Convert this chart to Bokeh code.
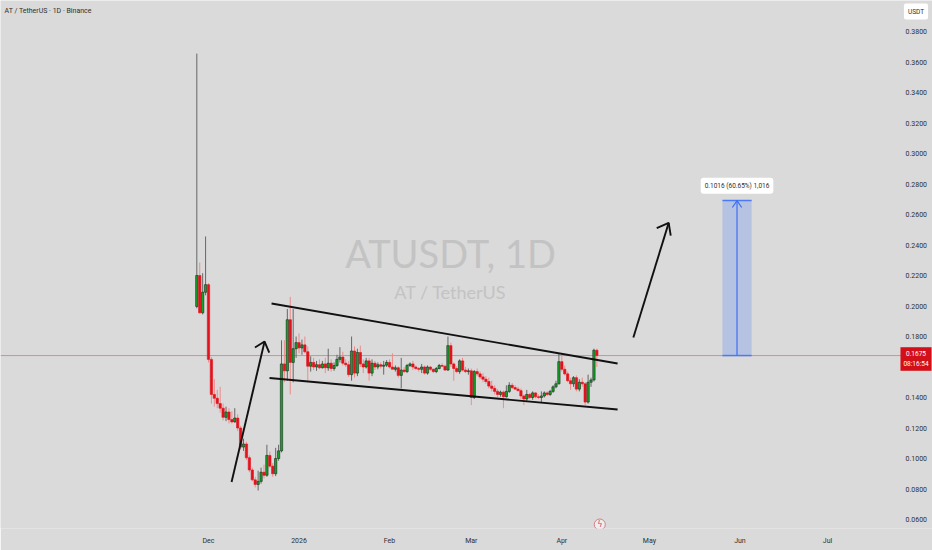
import pandas as pd
from bokeh.plotting import figure
from bokeh.models import (Range1d, FixedTicker, NumeralTickFormatter, Label,
                          ColumnDataSource)
from bokeh.core.properties import value
from bokeh.embed import file_html
from bokeh.resources import INLINE

# ---- AT/USDT daily candles (Binance) ----
first_day = "2025-11-27"
opens = [0.1997, 0.2200, 0.1955, 0.2090, 0.2140, 0.1650, 0.1420, 0.1395, 0.1360, 0.1330,
         0.1270, 0.1305, 0.1255, 0.1240, 0.1265, 0.1200, 0.1075, 0.1095, 0.1005, 0.0925,
         0.0860, 0.0830, 0.0850, 0.0910, 0.0890, 0.1020, 0.0950, 0.0900, 0.1000, 0.1050,
         0.1620, 0.1575, 0.1910, 0.1630, 0.1720, 0.1760, 0.1725, 0.1745, 0.1700, 0.1605,
         0.1630, 0.1600, 0.1615, 0.1595, 0.1620, 0.1595, 0.1625, 0.1590, 0.1610, 0.1650,
         0.1665, 0.1625, 0.1615, 0.1550, 0.1705, 0.1560, 0.1695, 0.1620, 0.1600, 0.1640,
         0.1560, 0.1625, 0.1600, 0.1615, 0.1605, 0.1612, 0.1630, 0.1600, 0.1585, 0.1595,
         0.1545, 0.1580, 0.1570, 0.1610, 0.1620, 0.1600, 0.1590, 0.1585, 0.1600, 0.1560,
         0.1600, 0.1585, 0.1570, 0.1590, 0.1610, 0.1605, 0.1580, 0.1740, 0.1620, 0.1590,
         0.1570, 0.1640, 0.1580, 0.1570, 0.1575, 0.1400, 0.1570, 0.1555, 0.1535, 0.1520,
         0.1505, 0.1475, 0.1460, 0.1440, 0.1420, 0.1435, 0.1405, 0.1440, 0.1480, 0.1465,
         0.1455, 0.1445, 0.1410, 0.1390, 0.1420, 0.1400, 0.1430, 0.1405, 0.1400, 0.1410,
         0.1430, 0.1420, 0.1440, 0.1470, 0.1490, 0.1635, 0.1585, 0.1555, 0.1510, 0.1490,
         0.1530, 0.1455, 0.1500, 0.1490, 0.1370, 0.1500, 0.1515, 0.1710]
highs = [0.3655, 0.2285, 0.2215, 0.2456, 0.2150, 0.1665, 0.1520, 0.1450, 0.1470, 0.1360,
         0.1340, 0.1330, 0.1310, 0.1330, 0.1290, 0.1215, 0.1130, 0.1110, 0.1020, 0.0940,
         0.0880, 0.0920, 0.0940, 0.0960, 0.1090, 0.1045, 0.0970, 0.1070, 0.1090, 0.1775,
         0.1775, 0.1980, 0.2060, 0.1980, 0.1800, 0.1820, 0.1780, 0.1800, 0.1735, 0.1670,
         0.1660, 0.1640, 0.1650, 0.1640, 0.1660, 0.1720, 0.1650, 0.1630, 0.1680, 0.1730,
         0.1700, 0.1650, 0.1640, 0.1800, 0.1735, 0.1720, 0.1740, 0.1650, 0.1660, 0.1660,
         0.1650, 0.1640, 0.1630, 0.1630, 0.1640, 0.1645, 0.1650, 0.1690, 0.1610, 0.1605,
         0.1660, 0.1600, 0.1620, 0.1630, 0.1640, 0.1610, 0.1600, 0.1620, 0.1610, 0.1610,
         0.1605, 0.1590, 0.1600, 0.1620, 0.1625, 0.1615, 0.1800, 0.1760, 0.1630, 0.1605,
         0.1650, 0.1660, 0.1600, 0.1590, 0.1590, 0.1580, 0.1590, 0.1570, 0.1560, 0.1540,
         0.1530, 0.1510, 0.1480, 0.1455, 0.1445, 0.1445, 0.1480, 0.1500, 0.1495, 0.1480,
         0.1470, 0.1460, 0.1420, 0.1450, 0.1430, 0.1440, 0.1435, 0.1420, 0.1440, 0.1440,
         0.1440, 0.1450, 0.1480, 0.1510, 0.1690, 0.1690, 0.1610, 0.1570, 0.1530, 0.1540,
         0.1545, 0.1520, 0.1530, 0.1500, 0.1550, 0.1530, 0.1720, 0.1720]
lows = [0.1985, 0.1950, 0.1945, 0.2070, 0.1630, 0.1360, 0.1340, 0.1330, 0.1300, 0.1250,
        0.1245, 0.1230, 0.1230, 0.1235, 0.1180, 0.1060, 0.1050, 0.0990, 0.0910, 0.0850,
        0.0810, 0.0790, 0.0835, 0.0870, 0.0880, 0.0940, 0.0880, 0.0885, 0.0985, 0.1040,
        0.1500, 0.1510, 0.1420, 0.1500, 0.1660, 0.1690, 0.1680, 0.1690, 0.1510, 0.1570,
        0.1580, 0.1575, 0.1585, 0.1590, 0.1560, 0.1575, 0.1570, 0.1575, 0.1600, 0.1630,
        0.1610, 0.1600, 0.1535, 0.1510, 0.1530, 0.1540, 0.1600, 0.1560, 0.1590, 0.1510,
        0.1540, 0.1580, 0.1585, 0.1590, 0.1550, 0.1600, 0.1590, 0.1590, 0.1570, 0.1530,
        0.1460, 0.1560, 0.1560, 0.1600, 0.1580, 0.1580, 0.1570, 0.1560, 0.1550, 0.1550,
        0.1575, 0.1560, 0.1560, 0.1585, 0.1600, 0.1575, 0.1575, 0.1600, 0.1510, 0.1560,
        0.1555, 0.1570, 0.1560, 0.1550, 0.1350, 0.1390, 0.1540, 0.1520, 0.1500, 0.1490,
        0.1460, 0.1440, 0.1420, 0.1400, 0.1405, 0.1330, 0.1400, 0.1430, 0.1455, 0.1450,
        0.1440, 0.1390, 0.1350, 0.1370, 0.1390, 0.1385, 0.1395, 0.1390, 0.1365, 0.1400,
        0.1410, 0.1410, 0.1430, 0.1460, 0.1485, 0.1570, 0.1545, 0.1500, 0.1450, 0.1470,
        0.1440, 0.1440, 0.1470, 0.1350, 0.1360, 0.1470, 0.1505, 0.1600]
closes = [0.2200, 0.1955, 0.2090, 0.2140, 0.1650, 0.1420, 0.1395, 0.1360, 0.1330, 0.1270,
          0.1305, 0.1255, 0.1240, 0.1265, 0.1200, 0.1075, 0.1095, 0.1005, 0.0925, 0.0860,
          0.0830, 0.0850, 0.0910, 0.0890, 0.1020, 0.0950, 0.0900, 0.1000, 0.1050, 0.1620,
          0.1575, 0.1910, 0.1630, 0.1720, 0.1760, 0.1725, 0.1745, 0.1700, 0.1605, 0.1630,
          0.1600, 0.1615, 0.1595, 0.1620, 0.1595, 0.1625, 0.1590, 0.1610, 0.1650, 0.1665,
          0.1625, 0.1615, 0.1550, 0.1705, 0.1560, 0.1695, 0.1620, 0.1600, 0.1640, 0.1560,
          0.1625, 0.1600, 0.1615, 0.1605, 0.1612, 0.1630, 0.1600, 0.1585, 0.1595, 0.1545,
          0.1580, 0.1570, 0.1610, 0.1620, 0.1600, 0.1590, 0.1585, 0.1600, 0.1560, 0.1600,
          0.1585, 0.1570, 0.1590, 0.1610, 0.1605, 0.1580, 0.1740, 0.1620, 0.1590, 0.1570,
          0.1640, 0.1580, 0.1570, 0.1575, 0.1400, 0.1570, 0.1555, 0.1535, 0.1520, 0.1505,
          0.1475, 0.1460, 0.1440, 0.1420, 0.1435, 0.1405, 0.1440, 0.1480, 0.1465, 0.1455,
          0.1445, 0.1410, 0.1390, 0.1420, 0.1400, 0.1430, 0.1405, 0.1400, 0.1410, 0.1430,
          0.1420, 0.1440, 0.1470, 0.1490, 0.1635, 0.1585, 0.1555, 0.1510, 0.1490, 0.1530,
          0.1455, 0.1500, 0.1490, 0.1370, 0.1500, 0.1515, 0.1710, 0.1675]

# ---- axes ----
axis_origin = "2025-12-01"
tick_dates = ["2025-12-01", "2026-01-01", "2026-02-01", "2026-03-01",
              "2026-04-01", "2026-05-01", "2026-06-01", "2026-07-01"]
tick_labels = ["Dec", "2026", "Feb", "Mar", "Apr", "May", "Jun", "Jul"]
price_ticks = [0.06, 0.08, 0.10, 0.12, 0.14, 0.18, 0.20, 0.22, 0.24, 0.26,
               0.28, 0.30, 0.32, 0.34, 0.36, 0.38]

# ---- drawings (days since Dec 1, price) ----
upper_channel = ([21.6, 140.1], [0.2016, 0.1623])
lower_channel = ([20.9, 140.1], [0.1528, 0.1321])
arrow_up_1 = ([7.9, 19.2], [0.0846, 0.1767])
arrow_head_1 = ([15.9, 19.2, 20.8], [0.1728, 0.1767, 0.1695])
arrow_up_2 = ([145.5, 157.6], [0.1793, 0.2545])
arrow_head_2 = ([153.5, 157.6, 158.3], [0.2510, 0.2545, 0.2462])

# price-range measurement
measure_from = "2026-05-26"
measure_to = "2026-06-05"
measure_delta = 0.1016
measure_pct = 60.65
countdown = "08:16:54"
event_date = "2026-04-14"

BG = "#dadada"
UP = "#13a12a"
DOWN = "#e3121c"
UP_WICK = "#666666"
DOWN_WICK = "#ee8b8b"
TXT = "#2f2f2f"
FONT = "Roboto"
MARK_FONT = "Lato"

origin = pd.Timestamp(axis_origin)
dates = pd.date_range(first_day, periods=len(closes), freq="D")
days = [(d - origin).days for d in dates]
rising = [c >= o for o, c in zip(opens, closes)]

src = ColumnDataSource(dict(
    x=days, high=highs, low=lows,
    top=[max(o, c) for o, c in zip(opens, closes)],
    bottom=[min(o, c) for o, c in zip(opens, closes)],
    fill=[UP if r else DOWN for r in rising],
    edge=["#1c2a1c" if r else DOWN for r in rising],
    wick=[UP_WICK if r else DOWN_WICK for r in rising],
))

# pixel geometry of the chart pane
PX_PER_DAY = 2.92
DEC1_PX = 208
PANE_W = 932
SCALE_X = 901          # left edge of the price scale
PANE_H = 528
PX_PER_PRICE = 1525.0
P38_PX = 31

def day_at(px):
    return (px - DEC1_PX) / PX_PER_DAY

def price_at(py):
    return 0.38 - (py - P38_PX) / PX_PER_PRICE

x0, x1 = day_at(0), day_at(PANE_W)
y_top, y_bot = price_at(0), price_at(PANE_H)

p = figure(width=932, height=550, output_backend="svg", toolbar_location=None,
           x_range=Range1d(x0, x1), y_range=Range1d(y_bot, y_top),
           y_axis_location="right", min_border_left=0, min_border_top=0,
           min_border_right=0, min_border_bottom=550 - PANE_H,
           background_fill_color=BG, border_fill_color=BG, outline_line_color=None)
p.grid.visible = False

# time axis
p.xaxis.ticker = FixedTicker(ticks=[(pd.Timestamp(t) - origin).days for t in tick_dates])
p.xaxis.major_label_overrides = {(pd.Timestamp(t) - origin).days: lab
                                 for t, lab in zip(tick_dates, tick_labels)}
# price scale drawn at the right edge of the pane
p.yaxis.ticker = FixedTicker(ticks=price_ticks)
p.yaxis.formatter = NumeralTickFormatter(format="0.0000")
p.yaxis.fixed_location = day_at(SCALE_X)
for ax in (p.xaxis[0], p.yaxis[0]):
    ax.axis_line_color = None
    ax.major_tick_line_color = None
    ax.minor_tick_line_color = None
    ax.major_tick_out = 0
    ax.major_tick_in = 0
    ax.major_label_text_font = FONT
    ax.major_label_text_font_size = "7px"
    ax.major_label_text_color = TXT
p.xaxis.major_label_standoff = 8
p.yaxis.major_label_standoff = 4

# watermark
mid_day = day_at(450)
p.add_layout(Label(x=mid_day, y=price_at(252), text="ATUSDT, 1D", text_align="center",
                   text_baseline="middle", text_font=MARK_FONT, text_font_size="38px",
                   text_color="#c3c3c3"))
p.add_layout(Label(x=mid_day, y=price_at(291), text="AT / TetherUS", text_align="center",
                   text_baseline="middle", text_font=MARK_FONT, text_font_size="18px",
                   text_color="#c3c3c3"))

# last price line
last = closes[-1]
p.segment(x0=[x0], y0=[last], x1=[day_at(SCALE_X + 2)], y1=[last],
          line_color="#e36f6f", line_width=1, line_alpha=0.75)

# measurement box
m0 = (pd.Timestamp(measure_from) - origin).days
m1 = (pd.Timestamp(measure_to) - origin).days
mid = (m0 + m1) / 2
target = last + measure_delta
p.quad(left=[m0], right=[m1], bottom=[last], top=[target],
       fill_color="#2962ff", fill_alpha=0.2, line_color=None)
p.segment(x0=[m0, m0], y0=[last, target], x1=[m1, m1], y1=[last, target],
          line_color="#4a7bf7", line_width=1.5)
p.segment(x0=[mid], y0=[last], x1=[mid], y1=[target], line_color="#3b6ff8", line_width=1.2)
p.line(x=[mid - 1.6, mid, mid + 1.6], y=[target - 0.0045, target, target - 0.0045],
       line_color="#3b6ff8", line_width=1.2)
p.add_layout(Label(x=mid, y=target + 0.0098,
                   text=f"{measure_delta:.4f} ({measure_pct:.2f}%) {round(measure_delta * 10000):,}",
                   text_align="center", text_baseline="middle", text_font=FONT,
                   text_font_size="6.5px", text_color=TXT, background_fill_color="white",
                   padding=4, border_radius=3))

# candles
p.segment(x0="x", y0="high", x1="x", y1="low", line_color="wick", line_width=1, source=src)
p.vbar(x="x", width=0.8, top="top", bottom="bottom", fill_color="fill",
       line_color="edge", line_width=0.6, source=src)

# channel and arrows
for xs, ys in (upper_channel, lower_channel, arrow_up_1, arrow_head_1, arrow_up_2, arrow_head_2):
    p.line(x=xs, y=ys, line_color="#111111", line_width=1.9)

# event marker on the time line
ev = (pd.Timestamp(event_date) - origin).days
p.scatter(x=[ev], y=[price_at(524)], size=11, marker="circle",
          fill_color="#eeeeee", line_color="#d77a86", line_width=1)
p.text(x=[ev], y=[price_at(524)], text=["ϟ"], text_align="center",
       text_baseline="middle", text_font_size="8px", text_color="#c9485a",
       text_font=value("DejaVu Sans"))

# header
p.add_layout(Label(x=day_at(4), y=price_at(10),
                   text="AT / TetherUS · 1D · Binance", text_baseline="middle",
                   text_font=FONT, text_font_size="7px", text_color=TXT))

# currency badge and live price tag on the price scale
tag_x = day_at(915.5)
p.add_layout(Label(x=tag_x, y=price_at(11), text="USDT", text_align="center",
                   text_baseline="middle", text_font=FONT, text_font_size="6.5px",
                   text_color=TXT, background_fill_color="white", padding=4,
                   border_radius=2))
p.add_layout(Label(x=tag_x, y=price_at(358.5), text=f"{last:.4f}\n{countdown}",
                   text_align="center", text_baseline="middle", text_font=FONT,
                   text_font_size="6.5px", text_color="white",
                   background_fill_color="#d3101a", padding=3))

open("out.html", "w").write(file_html(p, INLINE))
